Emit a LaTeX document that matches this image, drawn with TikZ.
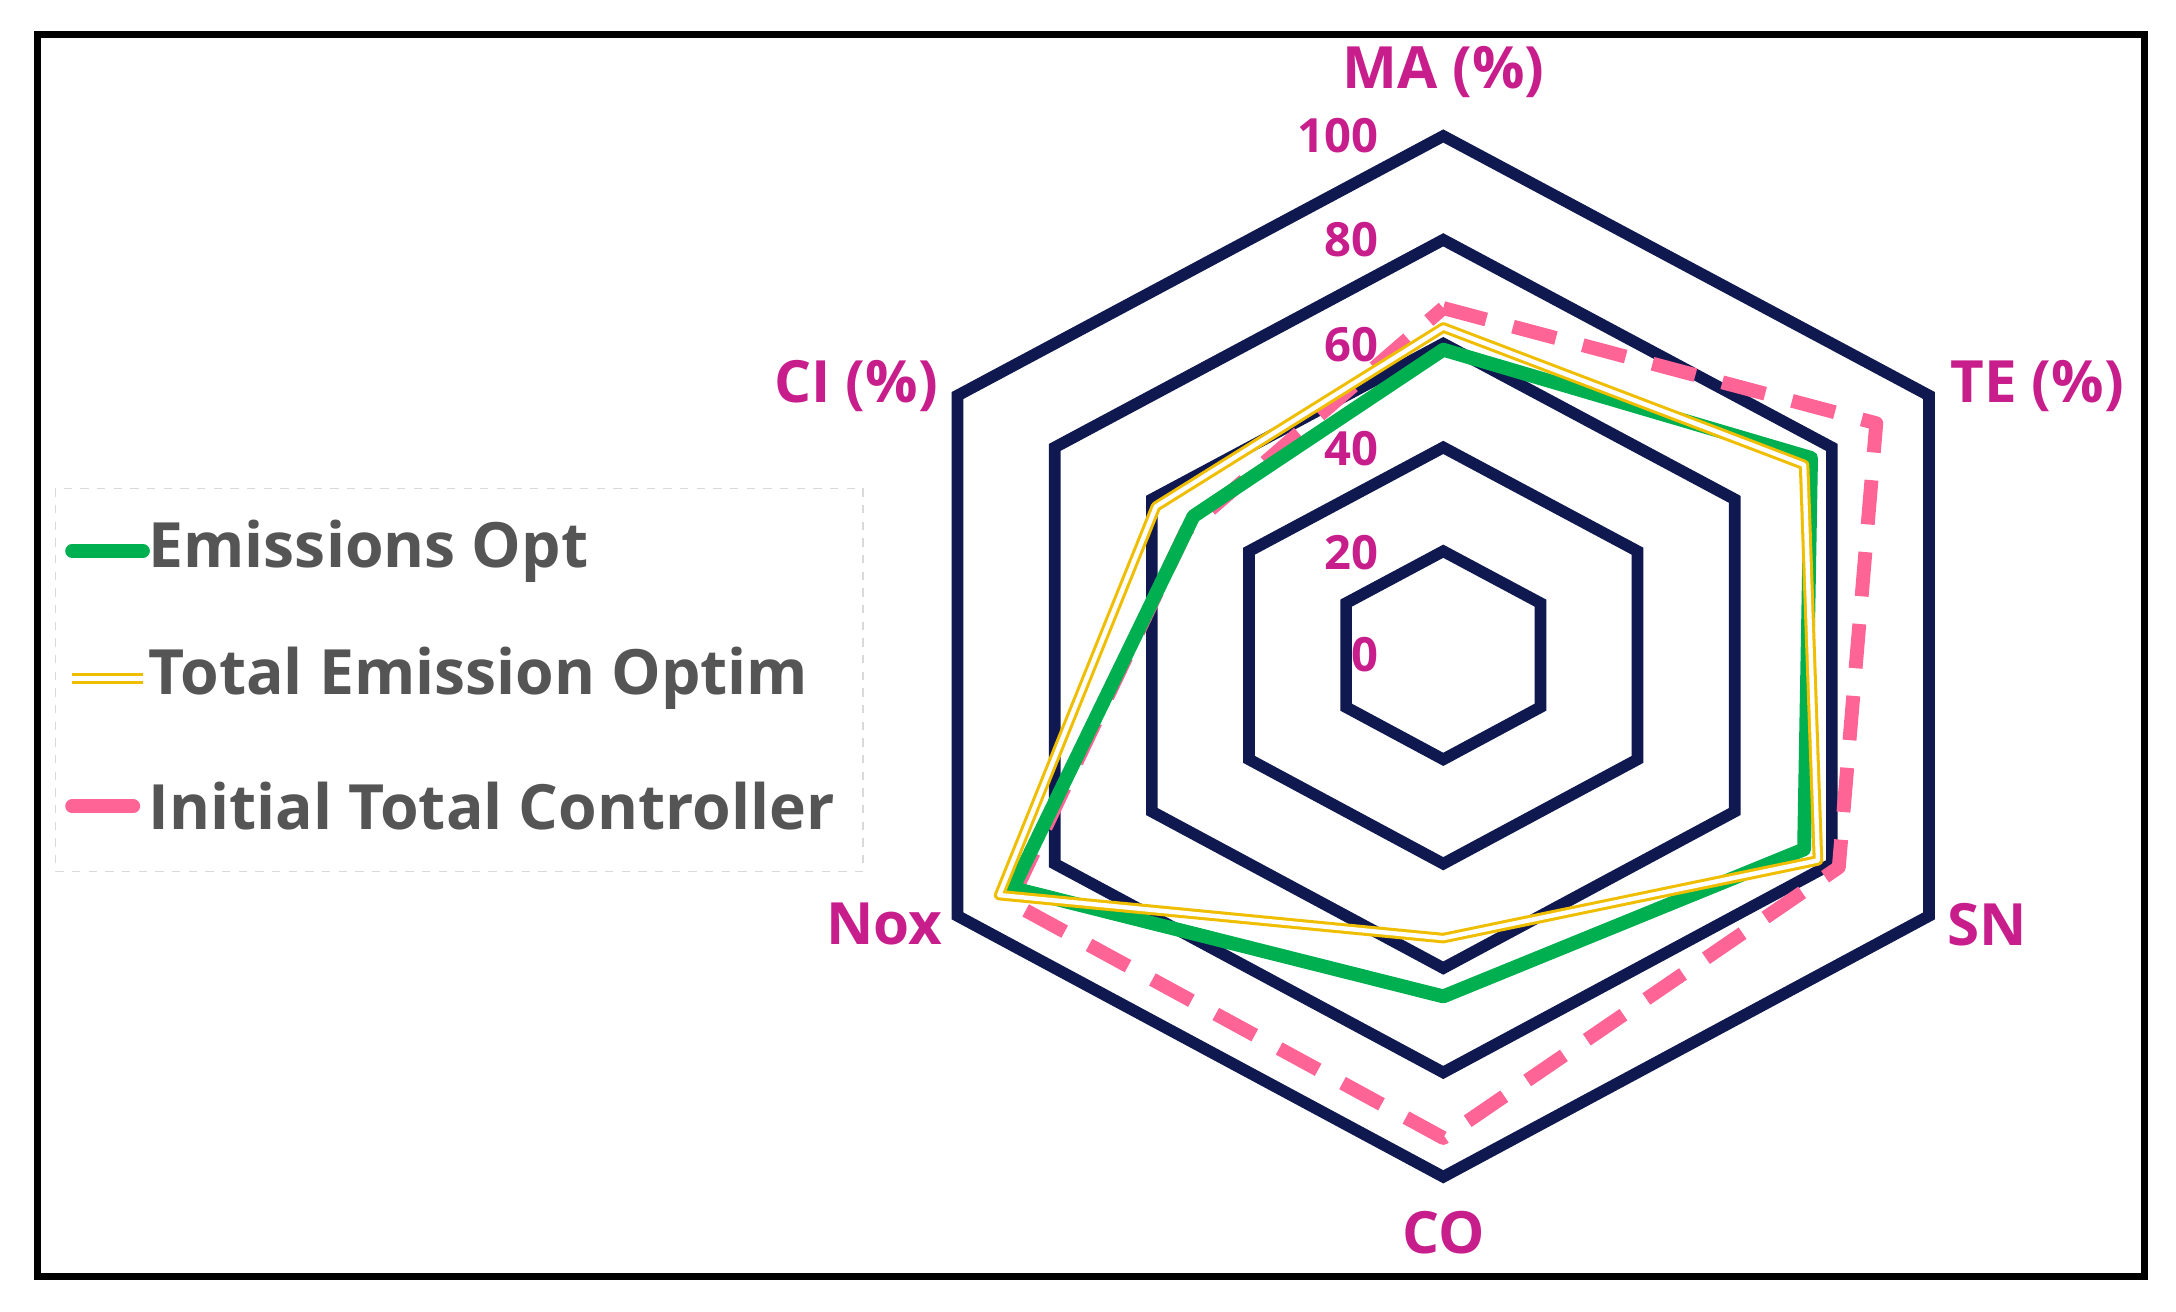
\documentclass[tikz,border=0pt]{standalone}
\usepackage{fontspec}
\setmainfont{Open Sans}
\usetikzlibrary{calc}
\definecolor{navy}{RGB}{15,25,80}
\definecolor{mag}{RGB}{200,30,140}
\definecolor{grn}{RGB}{0,176,80}
\definecolor{yel}{RGB}{240,190,0}
\definecolor{pnk}{RGB}{255,100,150}
\definecolor{txt}{RGB}{85,85,85}
\begin{document}
\begin{tikzpicture}[x=0.5pt,y=-0.5pt,
 grid/.style={navy,line width=4.2pt,line join=miter},
 ax/.style={mag,font=\bfseries\fontsize{21}{24}\selectfont},
 num/.style={mag,font=\bfseries\fontsize{17}{20}\selectfont,anchor=east},
 leg/.style={txt,font=\bfseries\fontsize{22.5}{26}\selectfont,anchor=west},
 gs/.style={grn,line width=5pt,line join=round},
 ys/.style={yel,line width=1.1pt,double=white,double distance=1.6pt,line join=round},
 ps/.style={pnk,line width=5pt,dash pattern=on 16pt off 10pt,line join=round}]
\useasboundingbox (0,0) rectangle (1568,945);
\fill[white] (0,0) rectangle (1568,945);
\draw[black,line width=2.5pt] (27,25) rectangle (1545,920);
\coordinate (C) at (1040,472);
\coordinate (V1) at (1040,98);
\coordinate (V2) at (1390,285);
\coordinate (V3) at (1390,660);
\coordinate (V4) at (1040,848);
\coordinate (V5) at (690,660);
\coordinate (V6) at (690,285);
\foreach \f in {0.2,0.4,0.6,0.8,1.0}
 \draw[grid] ($(C)!\f!(V1)$) -- ($(C)!\f!(V2)$) -- ($(C)!\f!(V3)$) -- ($(C)!\f!(V4)$) -- ($(C)!\f!(V5)$) -- ($(C)!\f!(V6)$) -- cycle;
\node[num] (n0) at (1000,472) {0};
\node[num] (n20) at (1000,398) {20};
\node[num] (n40) at (1000,323) {40};
\node[num] (n60) at (1000,248) {60};
\node[num] (n80) at (1000,173) {80};
\node[num] (n100) at (1000,98) {100};
\node[ax] (lma) at (1040,52) {MA (\%)};
\node[ax] (lte) at (1468,278) {TE (\%)};
\node[ax] (lsn) at (1432,666) {SN};
\node[ax] (lco) at (1040,888) {CO};
\node[ax] (lnox) at (637,666) {Nox};
\node[ax] (lci) at (617,278) {CI (\%)};
% series
\draw[ps] (1040,222) -- (1352,305) -- (1325,625) -- (1040,820) -- (728,650) -- (855,382) -- cycle;
\draw[gs] (1040,252) -- (1305,330) -- (1300,612) -- (1040,718) -- (730,640) -- (860,372) -- cycle;
\draw[ys] (1040,236) -- (1300,335) -- (1310,620) -- (1040,676) -- (720,645) -- (833,365) -- cycle;
% legend
\draw[gray!30,dashed,line width=0.6pt] (40,352) rectangle (622,628);
\coordinate (g1) at (52,397); \coordinate (g2) at (103,397);
\draw[gs,line cap=round] (g1) -- (g2);
\node[leg] (tg) at (100,397) {Emissions Opt};
\coordinate (y1) at (52,489); \coordinate (y2) at (103,489);
\draw[ys] (y1) -- (y2);
\node[leg] (ty) at (100,489) {Total Emission Optim};
\coordinate (p1) at (52,581); \coordinate (p2) at (103,581);
\draw[pnk,line width=5pt,dash pattern=on 22pt off 8pt on 6pt off 20pt,line cap=round] (p1) -- (p2);
\node[leg] (tp) at (100,581) {Initial Total Controller};
\end{tikzpicture}
\end{document}
